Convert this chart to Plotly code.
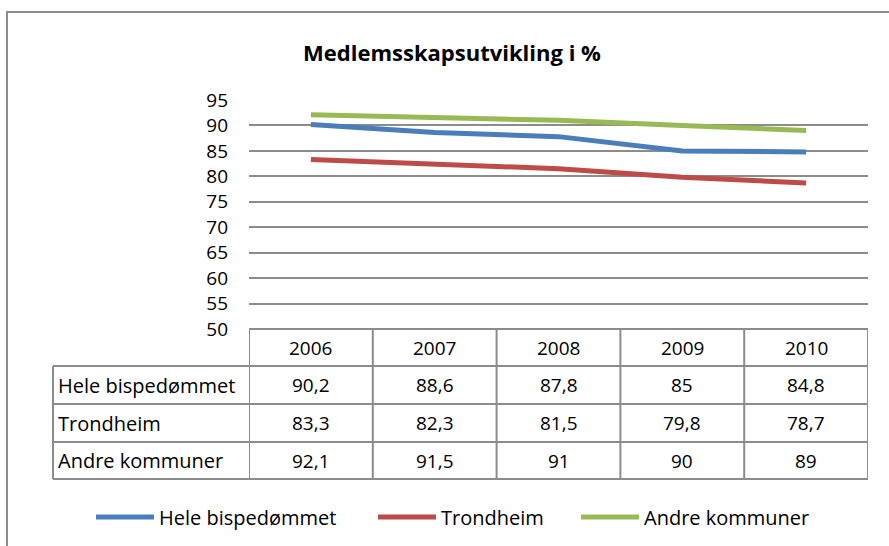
import plotly.graph_objects as go

years = ["2006", "2007", "2008", "2009", "2010"]
series_names = ["Hele bispedømmet", "Trondheim", "Andre kommuner"]
hele = [90.2, 88.6, 87.8, 85, 84.8]
trondheim = [83.3, 82.3, 81.5, 79.8, 78.7]
andre = [92.1, 91.5, 91, 90, 89]
colors = ["#4A7EBB", "#BE4B48", "#98B954"]
y_ticks = [50, 55, 60, 65, 70, 75, 80, 85, 90, 95]

W, H = 889, 546
FONT = "Open Sans"
GRID = "#8C8C8C"
FS = 19
FS_LABEL = 20


def px(x):
    return x / W


def py(y):
    return 1 - y / H


fig = go.Figure()
xs = list(range(len(years)))
legend_ids = ["legend", "legend2", "legend3"]
for name, vals, col, lg in zip(series_names, [hele, trondheim, andre], colors, legend_ids):
    fig.add_trace(go.Scatter(x=xs, y=vals, mode="lines", name=name, legend=lg,
                             showlegend=True, line=dict(color=col, width=5)))

shapes = []
annotations = []

# outer chart border
shapes.append(dict(type="rect", xref="paper", yref="paper",
                   x0=px(7), x1=px(900), y0=py(12), y1=py(560),
                   line=dict(color="#8C8C8C", width=2)))

# data table geometry
rows_y = [329, 366, 404, 442, 479]  # header top, row lines, bottom
label_left = 53
n = len(years)
shapes.append(dict(type="line", xref="x", yref="paper", x0=-0.5, x1=n - 0.5,
                   y0=py(rows_y[0]), y1=py(rows_y[0]), line=dict(color=GRID, width=2)))
for yy in rows_y[1:]:
    shapes.append(dict(type="line", xref="paper", yref="paper", x0=px(label_left), x1=px(868),
                       y0=py(yy), y1=py(yy), line=dict(color=GRID, width=2)))
shapes.append(dict(type="line", xref="paper", yref="paper", x0=px(label_left), x1=px(label_left),
                   y0=py(rows_y[1]), y1=py(rows_y[-1]), line=dict(color=GRID, width=2)))
for i in range(n + 1):
    shapes.append(dict(type="line", xref="x", yref="paper", x0=i - 0.5, x1=i - 0.5,
                       y0=py(rows_y[0]), y1=py(rows_y[-1]), line=dict(color=GRID, width=2)))

tfont = dict(family=FONT, size=FS, color="#000000")
lfont = dict(family=FONT, size=FS_LABEL, color="#000000")
for i, yr in enumerate(years):
    annotations.append(dict(x=i, y=py((rows_y[0] + rows_y[1]) / 2), xref="x", yref="paper",
                            text=yr, showarrow=False, font=tfont, xanchor="center", yanchor="middle"))


def fmt(v):
    return ("%g" % v).replace(".", ",")


for r, (name, vals) in enumerate(zip(series_names, [hele, trondheim, andre])):
    yc = py((rows_y[r + 1] + rows_y[r + 2]) / 2)
    annotations.append(dict(x=px(label_left + 3), y=yc, xref="paper", yref="paper", text=name,
                            showarrow=False, font=lfont, xanchor="left", yanchor="middle"))
    for i, v in enumerate(vals):
        annotations.append(dict(x=i, y=yc, xref="x", yref="paper", text=fmt(v),
                                showarrow=False, font=tfont, xanchor="center", yanchor="middle"))

legend_x = [91, 373, 576]
leg_common = dict(orientation="h", yanchor="middle", xanchor="left", y=py(517),
                  itemwidth=58, font=lfont,
                  bgcolor="rgba(0,0,0,0)", borderwidth=0)

fig.update_layout(
    width=W, height=H,
    showlegend=True,
    margin=dict(l=0, r=0, t=0, b=0, autoexpand=False),
    paper_bgcolor="white", plot_bgcolor="white",
    title=dict(text="<b>Medlemsskapsutvikling i %</b>", x=px(452), xanchor="center",
               y=py(53), yanchor="middle",
               font=dict(family=FONT, size=22, color="#000000")),
    xaxis=dict(domain=[px(249), px(868)], range=[-0.5, n - 0.5], showgrid=False,
               showticklabels=False, zeroline=False, showline=False, ticks=""),
    yaxis=dict(domain=[py(329), py(100)], range=[50, 95], tickvals=y_ticks,
               showgrid=True, gridcolor=GRID, gridwidth=2, zeroline=False,
               showline=False, ticks="", ticklabelstandoff=20,
               tickfont=dict(family=FONT, size=FS, color="#000000")),
    legend=dict(x=px(legend_x[0]), **leg_common),
    legend2=dict(x=px(legend_x[1]), **leg_common),
    legend3=dict(x=px(legend_x[2]), **leg_common),
    shapes=shapes,
    annotations=annotations,
)

fig.write_html("out.html", config={"displayModeBar": False},
               post_script="document.body.style.margin='0';document.body.style.overflow='hidden';")
